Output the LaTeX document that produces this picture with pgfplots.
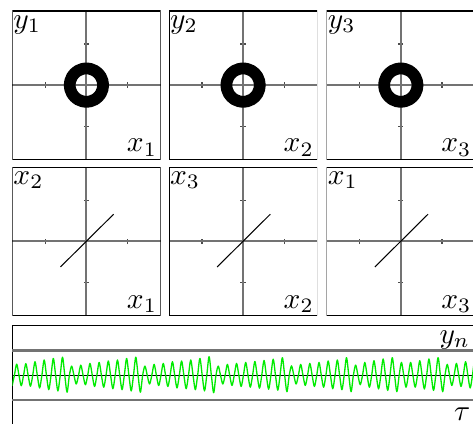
\documentclass[border=0pt]{standalone}
\usepackage{pgfplots}
\pgfplotsset{compat=1.18}
\usepackage{pgfplotstable}

\definecolor{axgray}{RGB}{115,115,115}
\definecolor{siggreen}{RGB}{0,235,0}

% limit cycle of each oscillator in its (x_i, y_i) plane
\pgfplotstableread{
x y
0.405 0
0.391 0.105
0.351 0.2025
0.286 0.286
0.2025 0.351
0.105 0.391
0 0.405
-0.105 0.391
-0.2025 0.351
-0.286 0.286
-0.351 0.2025
-0.391 0.105
-0.405 0
-0.391 -0.105
-0.351 -0.2025
-0.286 -0.286
-0.2025 -0.351
-0.105 -0.391
0 -0.405
0.105 -0.391
0.2025 -0.351
0.286 -0.286
0.351 -0.2025
0.391 -0.105
0.405 0
}\ring

% synchronisation manifold x_{i+1} versus x_i
\pgfplotstableread{
x y
-0.63 -0.62
0.66 0.66
}\diag

% network output y_n over time
\pgfplotstableread[row sep=\\]{
x y\\
-0.02 -0.42\\
0.23 0\\ 0.48 0.45\\ 0.73 0\\ 0.98 -0.42\\
1.23 0\\ 1.48 0.47\\ 1.73 0\\ 1.98 -0.44\\
2.23 0\\ 2.48 0.55\\ 2.73 0\\ 2.98 -0.51\\
3.23 0\\ 3.48 0.62\\ 3.73 0\\ 3.98 -0.58\\
4.23 0\\ 4.48 0.68\\ 4.73 0\\ 4.98 -0.63\\
5.23 0\\ 5.48 0.73\\ 5.73 0\\ 5.98 -0.68\\
6.23 0\\ 6.48 0.37\\ 6.73 0\\ 6.98 -0.35\\
7.23 0\\ 7.48 0.41\\ 7.73 0\\ 7.98 -0.38\\
8.23 0\\ 8.48 0.48\\ 8.73 0\\ 8.98 -0.45\\
9.23 0\\ 9.48 0.52\\ 9.73 0\\ 9.98 -0.48\\
10.23 0\\ 10.48 0.58\\ 10.73 0\\ 10.98 -0.54\\
11.23 0\\ 11.48 0.62\\ 11.73 0\\ 11.98 -0.58\\
12.23 0\\ 12.48 0.68\\ 12.73 0\\ 12.98 -0.63\\
13.23 0\\ 13.48 0.73\\ 13.73 0\\ 13.98 -0.68\\
14.23 0\\ 14.48 0.37\\ 14.73 0\\ 14.98 -0.35\\
15.23 0\\ 15.48 0.44\\ 15.73 0\\ 15.98 -0.41\\
16.23 0\\ 16.48 0.48\\ 16.73 0\\ 16.98 -0.45\\
17.23 0\\ 17.48 0.55\\ 17.73 0\\ 17.98 -0.51\\
18.23 0\\ 18.48 0.58\\ 18.73 0\\ 18.98 -0.54\\
19.23 0\\ 19.48 0.62\\ 19.73 0\\ 19.98 -0.58\\
20.23 0\\ 20.48 0.68\\ 20.73 0\\ 20.98 -0.63\\
21.23 0\\ 21.48 0.75\\ 21.73 0\\ 21.98 -0.70\\
22.23 0\\ 22.48 0.37\\ 22.73 0\\ 22.98 -0.35\\
23.23 0\\ 23.48 0.44\\ 23.73 0\\ 23.98 -0.41\\
24.23 0\\ 24.48 0.48\\ 24.73 0\\ 24.98 -0.45\\
25.23 0\\ 25.48 0.52\\ 25.73 0\\ 25.98 -0.48\\
26.23 0\\ 26.48 0.56\\ 26.73 0\\ 26.98 -0.52\\
27.23 0\\ 27.48 0.60\\ 27.73 0\\ 27.98 -0.56\\
28.23 0\\ 28.48 0.65\\ 28.73 0\\ 28.98 -0.60\\
29.23 0\\ 29.48 0.71\\ 29.73 0\\ 29.98 -0.66\\
30.23 0\\ 30.48 0.38\\ 30.73 0\\ 30.98 -0.35\\
31.23 0\\ 31.48 0.44\\ 31.73 0\\ 31.98 -0.41\\
32.23 0\\ 32.48 0.48\\ 32.73 0\\ 32.98 -0.45\\
33.23 0\\ 33.48 0.52\\ 33.73 0\\ 33.98 -0.48\\
34.23 0\\ 34.48 0.58\\ 34.73 0\\ 34.98 -0.54\\
35.23 0\\ 35.48 0.62\\ 35.73 0\\ 35.98 -0.58\\
36.23 0\\ 36.48 0.71\\ 36.73 0\\ 36.98 -0.66\\
37.23 0\\ 37.48 0.41\\ 37.73 0\\ 37.98 -0.38\\
38.23 0\\ 38.48 0.52\\ 38.73 0\\ 38.98 -0.48\\
39.23 0\\ 39.48 0.59\\ 39.73 0\\ 39.98 -0.55\\
40.23 0\\ 40.48 0.66\\ 40.73 0\\ 40.98 -0.61\\
41.23 0\\ 41.48 0.71\\ 41.73 0\\ 41.98 -0.66\\
42.23 0\\ 42.48 0.52\\ 42.73 0\\ 42.98 -0.48\\
43.23 0\\ 43.48 0.52\\ 43.73 0\\ 43.98 -0.48\\
44.23 0\\ 44.48 0.59\\ 44.73 0\\ 44.98 -0.55\\
45.23 0\\ 45.48 0.66\\ 45.73 0\\ 45.98 -0.61\\
46.23 0\\ 46.48 0.71\\ 46.73 0\\ 46.98 -0.66\\
47.23 0\\ 47.48 0.44\\ 47.73 0\\ 47.98 -0.41\\
48.23 0\\ 48.48 0.48\\ 48.73 0\\ 48.98 -0.45\\
49.23 0\\ 49.48 0.55\\ 49.73 0\\ 49.98 -0.51\\
50.23 0\\ 50.48 0.60\\ 50.73 0\\ 50.98 -0.56\\
}\signal

\pgfplotsset{
  phase/.style={
    anchor=north west,
    width=50.4pt, height=50.4pt, scale only axis,
    xmin=-1.8, xmax=1.8, ymin=-1.8, ymax=1.8,
    axis lines=middle,
    axis line style={axgray, line width=0.7pt, -},
    inner axis line style={-},
    xtick={-1,1}, ytick={-1,1},
    xticklabels={}, yticklabels={},
    tick align=center, major tick length=1.8pt,
    tick style={black!70, line width=0.45pt},
  },
}
\tikzset{
  tl/.style={anchor=north west, inner xsep=0.2pt, inner ysep=1.3pt},
  br/.style={anchor=south east, inner xsep=1pt, inner ysep=0.8pt},
}

\newcommand{\frameaxis}{\draw[black, line width=0.4pt] (rel axis cs:0,0) rectangle (rel axis cs:1,1);}

\begin{document}
\begin{tikzpicture}

% row 1: (x_i, y_i) planes
\begin{axis}[phase, at={(4.18pt,-3.74pt)}]
  \addplot[black, line width=4pt, smooth, line cap=round] table {\ring};
  \frameaxis
  \node[tl] at (rel axis cs:0,1) {$y_1$};
  \node[br] at (rel axis cs:1,0) {$x_1$};
\end{axis}
\begin{axis}[phase, at={(57.46pt,-3.74pt)}]
  \addplot[black, line width=4pt, smooth, line cap=round] table {\ring};
  \frameaxis
  \node[tl] at (rel axis cs:0,1) {$y_2$};
  \node[br] at (rel axis cs:1,0) {$x_2$};
\end{axis}
\begin{axis}[phase, at={(111.08pt,-3.74pt)}]
  \addplot[black, line width=4pt, smooth, line cap=round] table {\ring};
  \frameaxis
  \node[tl] at (rel axis cs:0,1) {$y_3$};
  \node[br] at (rel axis cs:1,0) {$x_3$};
\end{axis}

% row 2: (x_i, x_{i+1}) planes
\begin{axis}[phase, at={(4.18pt,-56.88pt)}]
  \addplot[black, line width=0.35pt] table {\diag};
  \frameaxis
  \node[tl] at (rel axis cs:0,1) {$x_2$};
  \node[br] at (rel axis cs:1,0) {$x_1$};
\end{axis}
\begin{axis}[phase, at={(57.46pt,-56.88pt)}]
  \addplot[black, line width=0.35pt] table {\diag};
  \frameaxis
  \node[tl] at (rel axis cs:0,1) {$x_3$};
  \node[br] at (rel axis cs:1,0) {$x_2$};
\end{axis}
\begin{axis}[phase, at={(111.08pt,-56.88pt)}]
  \addplot[black, line width=0.35pt] table {\diag};
  \frameaxis
  \node[tl] at (rel axis cs:0,1) {$x_1$};
  \node[br] at (rel axis cs:1,0) {$x_3$};
\end{axis}

% row 3: output signal
\begin{axis}[
  anchor=north west, at={(4.18pt,-110.74pt)},
  width=157.3pt, height=33.73pt, scale only axis,
  xmin=0, xmax=50.5, ymin=-2, ymax=2,
  xtick=\empty, ytick={0}, yticklabels={},
  major tick length=0pt,
  ymajorgrids, major grid style={black, line width=0.35pt},
  extra y ticks={-1,1}, extra y tick labels={},
  extra y tick style={major grid style={axgray, line width=0.7pt}, major tick length=0pt},
  axis line style={black, line width=0.4pt},
]
  \addplot[siggreen, line width=0.45pt, smooth, line join=round] table {\signal};
  \node[anchor=north east, inner xsep=1.5pt, inner ysep=1.4pt] at (rel axis cs:1,1) {$y_n$};
  \node[anchor=south east, inner xsep=1.4pt, inner ysep=1.3pt] at (rel axis cs:1,0) {$\tau$};
\end{axis}

\pgfresetboundingbox
\path[use as bounding box] (0pt,0pt) rectangle (160.82pt,-144.16pt);
\end{tikzpicture}
\end{document}
